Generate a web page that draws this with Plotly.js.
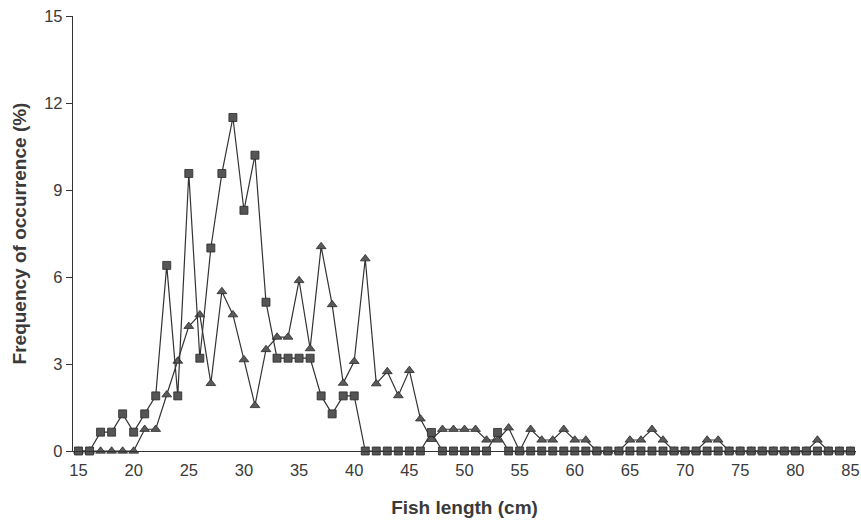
<!DOCTYPE html>
<html>
<head>
<meta charset="utf-8">
<script src="https://cdn.plot.ly/plotly-3.0.1.min.js"></script>
<style>
html,body{margin:0;padding:0;background:#fff;}
#chart{width:861px;height:524px;}
</style>
</head>
<body>
<div id="chart"></div>
<script>
// Fish length classes (cm)
var lengths = [15,16,17,18,19,20,21,22,23,24,25,26,27,28,29,30,31,32,33,34,35,36,37,38,39,40,
  41,42,43,44,45,46,47,48,49,50,51,52,53,54,55,56,57,58,59,60,61,62,63,64,65,66,67,68,69,70,
  71,72,73,74,75,76,77,78,79,80,81,82,83,84,85];

// Series with square markers
var squareSeries = [0,0,0.65,0.65,1.28,0.65,1.28,1.9,6.4,1.9,9.57,3.2,7.0,9.57,11.5,8.3,10.2,5.13,3.2,3.2,3.2,3.2,1.9,1.28,1.9,1.9,
  0,0,0,0,0,0,0.64,0,0,0,0,0,0.64,0,0,0,0,0,0,0,0,0,0,0,0,0,0,0,0,0,
  0,0,0,0,0,0,0,0,0,0,0,0,0,0,0];

// Series with triangle markers
var triangleSeries = [0,0,0,0,0,0,0.75,0.75,1.94,3.1,4.3,4.7,2.33,5.5,4.7,3.15,1.57,3.5,3.93,3.93,5.88,3.53,7.05,5.05,2.34,3.09,
  6.63,2.32,2.74,1.91,2.78,1.11,0.4,0.75,0.75,0.75,0.75,0.38,0.38,0.8,0,0.75,0.38,0.38,0.75,0.38,0.38,0,0,0,0.38,0.38,0.75,0.38,0,0,
  0,0.38,0.38,0,0,0,0,0,0,0,0,0.38,0,0,0];

// Axis tick labels (labels sit on the categories, tick marks between categories)
var xTickLabels = ['15','20','25','30','35','40','45','50','55','60','65','70','75','80','85'];
var xLabelPositions = [15,20,25,30,35,40,45,50,55,60,65,70,75,80,85];
var xTickMarkPositions = [14.5,19.5,24.5,29.5,34.5,39.5,44.5,49.5,54.5,59.5,64.5,69.5,74.5,79.5,84.5];
var yTickValues = [0,3,6,9,12,15];

var lineColor = '#333333';

var traces = [
  {
    x: lengths, y: triangleSeries, type: 'scatter', mode: 'lines+markers',
    line: {color: lineColor, width: 1.2},
    marker: {symbol: 'triangle-up', size: 8.5, color: '#5a5a5a', line: {color: '#2a2a2a', width: 0.8}},
    cliponaxis: false, showlegend: false, hoverinfo: 'x+y'
  },
  {
    x: lengths, y: squareSeries, type: 'scatter', mode: 'lines+markers',
    line: {color: lineColor, width: 1.2},
    marker: {symbol: 'square', size: 8, color: '#555555', line: {color: '#2a2a2a', width: 0.8}},
    cliponaxis: false, showlegend: false, hoverinfo: 'x+y'
  }
];

var layout = {
  width: 861, height: 524,
  paper_bgcolor: '#ffffff', plot_bgcolor: '#ffffff',
  margin: {l: 73, r: 5, t: 16, b: 73},
  font: {family: 'Liberation Sans, Arial, sans-serif', color: '#3a3a3a', size: 16},
  xaxis: {
    range: [14.5, 85.5], tickmode: 'array', tickvals: xLabelPositions, ticktext: xTickLabels,
    ticks: '', ticklabelstandoff: 4,
    showline: true, linecolor: lineColor, linewidth: 1.2,
    showgrid: false, zeroline: false,
    tickfont: {size: 16.5, color: '#3a3a3a'},
    title: {text: '<b>Fish length (cm)</b>', font: {size: 19, color: '#3a3a3a'}, standoff: 22}
  },
  xaxis2: {
    overlaying: 'x', anchor: 'y', side: 'bottom', matches: 'x',
    range: [14.5, 85.5], tickmode: 'array', tickvals: xTickMarkPositions,
    showticklabels: false,
    ticks: 'outside', ticklen: 5, tickwidth: 1, tickcolor: lineColor,
    showline: false, showgrid: false, zeroline: false
  },
  yaxis: {
    range: [0, 15], tickmode: 'array', tickvals: yTickValues,
    ticks: 'outside', ticklen: 6, tickwidth: 1, tickcolor: lineColor,
    showline: true, linecolor: lineColor, linewidth: 1.2,
    showgrid: false, zeroline: false,
    tickfont: {size: 16.5, color: '#3a3a3a'},
    title: {text: '<b>Frequency of occurrence (%)</b>', font: {size: 19, color: '#3a3a3a'}, standoff: 12}
  }
};

Plotly.newPlot('chart', traces, layout, {displayModeBar: false, staticPlot: true});
</script>
</body>
</html>
